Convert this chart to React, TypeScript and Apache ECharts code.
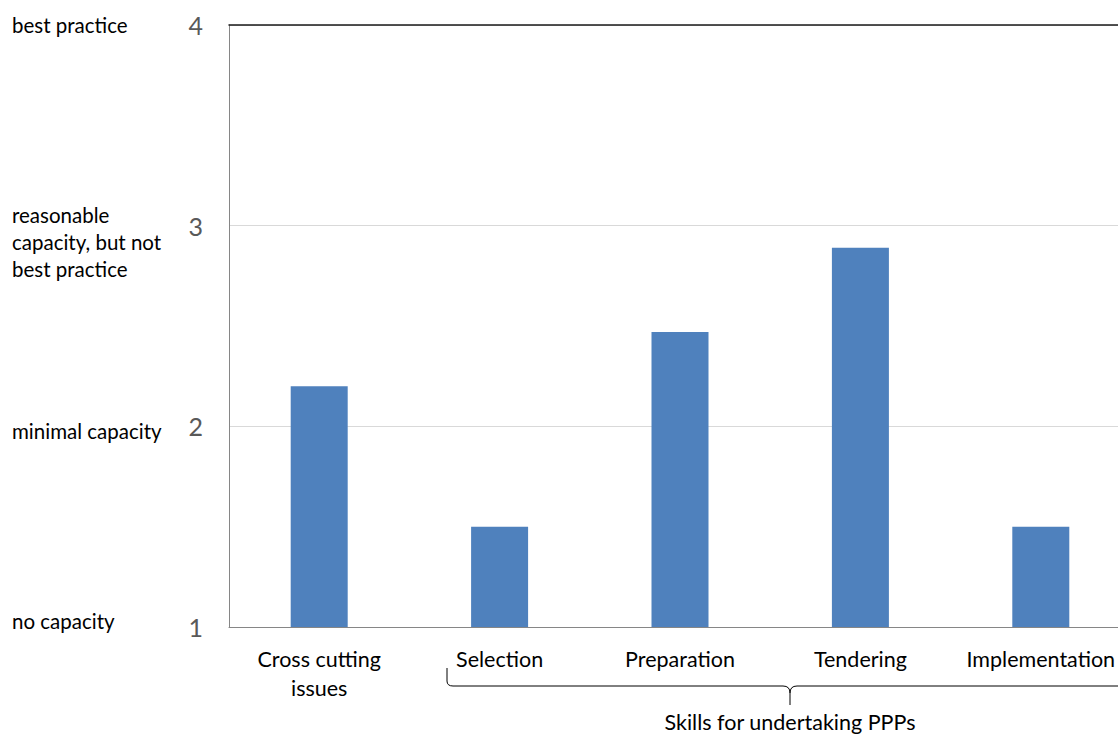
import React, { useEffect, useRef } from "react";
import * as echarts from "echarts";

const categories = ["Cross cutting\nissues", "Selection", "Preparation", "Tendering", "Implementation"];
const scores = [2.2, 1.5, 2.47, 2.89, 1.5];
const levelTicks = [1, 2, 3, 4];
const levelNames = ["no capacity", "minimal capacity", "reasonable\ncapacity, but not\nbest practice", "best practice"];
const groupTitle = "Skills for undertaking PPPs";

const FONT = "Lato, 'Noto Sans', sans-serif";

// bracket under the four PPP skill categories
echarts.graphic.registerShape(
  "skillsBrace",
  echarts.graphic.extendPath(
    "M447,668 L447,681 Q447,686 453,686 L783,686 Q790,686 790,693 L790,705 M790,693 Q790,686 797,686 L1140,686",
    {}
  )
);

export default function App() {
  const ref = useRef<HTMLDivElement>(null);
  useEffect(() => {
    if (!ref.current) return;
    const chart = echarts.init(ref.current, null, { renderer: "svg" });
    const levelY = [621, 431, 242, 25];
    chart.setOption({
      animation: false,
      backgroundColor: "#ffffff",
      textStyle: { fontFamily: FONT },
      grid: { left: 229, top: 25, width: 902, bottom: 108, containLabel: false },
      xAxis: [
        {
          type: "category",
          data: categories,
          axisLine: { lineStyle: { color: "#868686", width: 1 } },
          axisTick: { show: false },
          axisLabel: { color: "#000", fontSize: 21.5, fontFamily: FONT, margin: 17, lineHeight: 29, interval: 0 },
        },
        {
          type: "category",
          position: "top",
          data: categories,
          axisLine: { show: true, lineStyle: { color: "#1a1a1a", width: 1.5 } },
          axisTick: { show: false },
          axisLabel: { show: false },
        },
      ],
      yAxis: {
        type: "value",
        min: levelTicks[0],
        max: levelTicks[levelTicks.length - 1],
        interval: 1,
        axisLine: { show: true, lineStyle: { color: "#868686", width: 1 } },
        axisTick: { show: false },
        splitLine: { lineStyle: { color: "#d9d9d9", width: 1 } },
        axisLabel: { color: "#595959", fontSize: 25, fontFamily: FONT, margin: 26 },
      },
      series: [
        {
          type: "bar",
          data: scores,
          barWidth: 57,
          itemStyle: { color: "#4f81bd" },
        },
      ],
      graphic: [
        ...levelNames.map((name, i) => ({
          type: "text",
          left: 12,
          top: levelY[i] - (name.split("\n").length * 27) / 2,
          style: {
            text: name,
            fill: "#000",
            font: `20.5px ${FONT}`,
            lineHeight: 27,
          },
        })),
        {
          type: "skillsBrace",
          x: 0,
          y: 0,
          style: { stroke: "#000", fill: "none", lineWidth: 1 },
        },
        {
          type: "text",
          x: 790,
          y: 722,
          style: {
            text: groupTitle,
            fill: "#000",
            font: `21.5px ${FONT}`,
            textAlign: "center",
            textVerticalAlign: "middle",
          },
        },
      ],
    });
    return () => chart.dispose();
  }, []);
  return (
    <div style={{ position: "fixed", left: 0, top: 0, width: 1118, height: 735, overflow: "hidden" }}>
      <div ref={ref} style={{ width: 1140, height: 735 }} />
    </div>
  );
}
